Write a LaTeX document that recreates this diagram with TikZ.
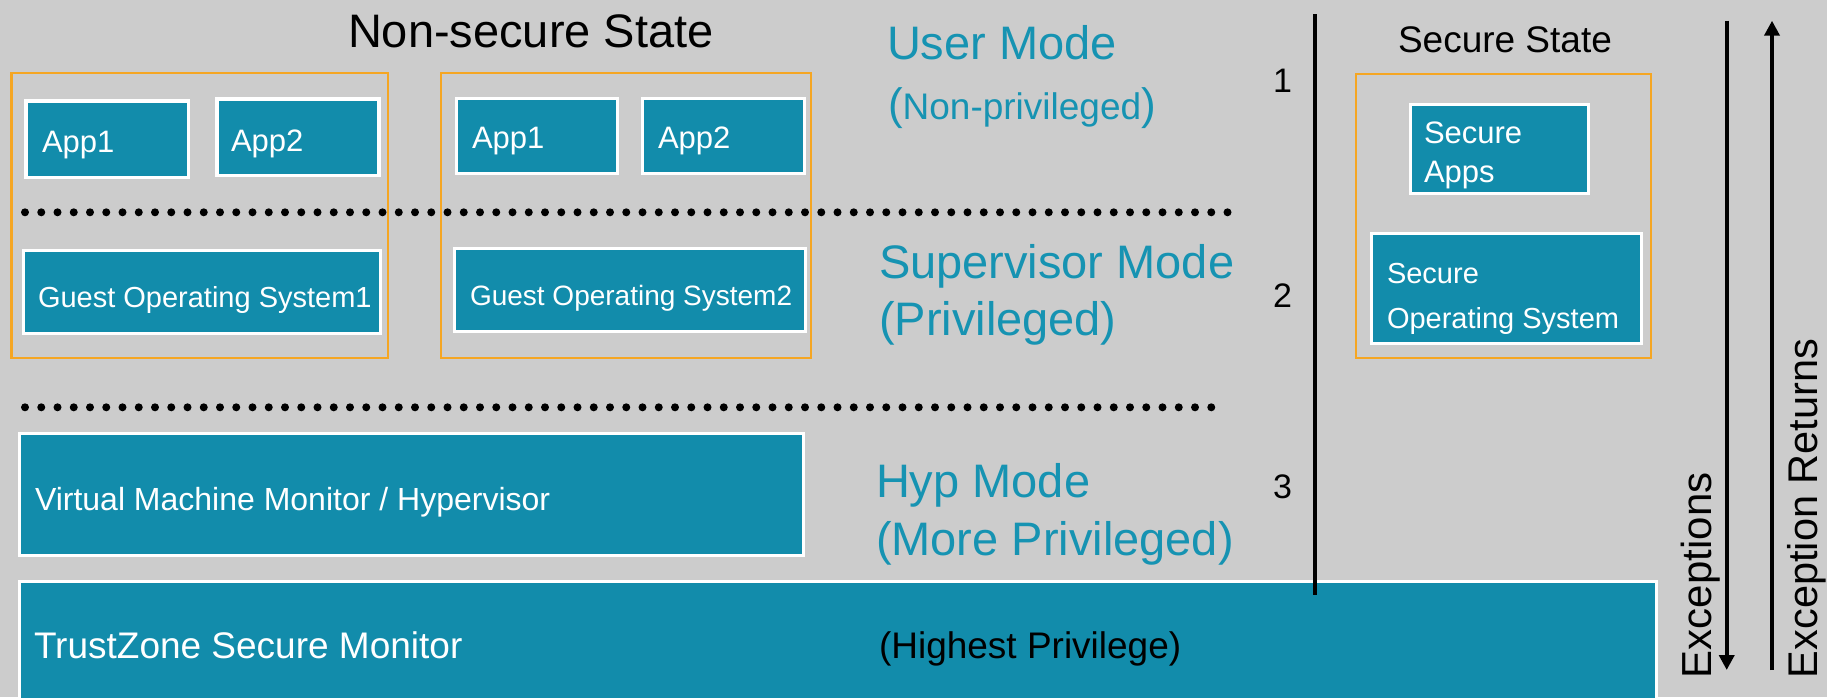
\documentclass[tikz,border=0pt]{standalone}
\usepackage{fontspec}
\setmainfont{Liberation Sans}
\usetikzlibrary{arrows.meta}

\definecolor{bggray}{RGB}{204,204,204}
\definecolor{tealbox}{RGB}{18,140,171}
\definecolor{tealtext}{RGB}{22,147,178}
\definecolor{vmorange}{RGB}{245,166,35}

\newcommand{\fs}[1]{\fontsize{#1}{#1}\selectfont}

\tikzset{
  vmframe/.style={draw=vmorange, line width=2.3pt, fill=none},
  blockbox/.style={draw=white, line width=3.5pt, fill=tealbox, inner sep=0pt, outer sep=0pt},
  txt/.style={inner sep=0pt, outer sep=0pt, anchor=base west},
  boxtxt/.style={txt, text=white},
  modetxt/.style={txt, text=tealtext, font=\fs{47}},
  ringtxt/.style={txt, text=black, font=\fs{34}},
  dotrule/.style={line width=8pt, line cap=round, dash pattern=on 0pt off 16.25pt},
  flowarrow/.style={line width=4pt, -{Triangle[length=15pt,width=15pt]}},
}

\begin{document}
\begin{tikzpicture}[x=1pt, y=-1pt]
  % canvas
  \useasboundingbox (0,0) rectangle (1827,697);
  \fill[bggray] (0,0) rectangle (1827,697);

  % guest virtual machine frames and secure world frame
  \draw[vmframe] (11.5,73) rectangle (388,358);
  \draw[vmframe] (441,73) rectangle (811,358);
  \draw[vmframe] (1356,74) rectangle (1651,358);

  % titles
  \node[txt, font=\fs{47}] (nstitle) at (348,47) {Non-secure State};
  \node[txt, font=\fs{37}] (stitle) at (1398,52) {Secure State};

  % user level blocks
  \node[blockbox, anchor=north west, minimum width=162.7pt, minimum height=76.5pt] (appA1) at (25.8,101) {};
  \node[blockbox, anchor=north west, minimum width=162.2pt, minimum height=76.5pt] (appA2) at (216.8,99) {};
  \node[blockbox, anchor=north west, minimum width=161pt, minimum height=75pt] (appB1) at (456.5,98.5) {};
  \node[blockbox, anchor=north west, minimum width=162pt, minimum height=75pt] (appB2) at (642.5,98.5) {};
  \node[boxtxt, font=\fs{31}] (appA1t) at (42,152.5) {App1};
  \node[boxtxt, font=\fs{31}] (appA2t) at (231,151.5) {App2};
  \node[boxtxt, font=\fs{31}] (appB1t) at (472,148) {App1};
  \node[boxtxt, font=\fs{31}] (appB2t) at (658,148) {App2};

  \node[blockbox, anchor=north west, minimum width=178pt, minimum height=89pt] (sapps) at (1410.5,104.5) {};
  \node[boxtxt, font=\fs{31}] (sappst1) at (1424,143) {Secure};
  \node[boxtxt, font=\fs{31}] (sappst2) at (1424,182) {Apps};

  % privilege level separators
  \coordinate (dotA) at (25,212.3);
  \coordinate (dotB) at (1228.5,212.3);
  \coordinate (dotC) at (25,407.3);
  \coordinate (dotD) at (1212,407.3);
  \draw[dotrule] (dotA) -- (dotB);
  \draw[dotrule] (dotC) -- (dotD);

  % kernel level blocks
  \node[blockbox, anchor=north west, minimum width=357pt, minimum height=83pt] (gos1) at (23.5,250.5) {};
  \node[blockbox, anchor=north west, minimum width=351pt, minimum height=83pt] (gos2) at (454.5,248.5) {};
  \node[boxtxt, font=\fs{29}] (gos1t) at (38,307) {Guest Operating System1};
  \node[boxtxt, font=\fs{28}] (gos2t) at (470,305) {Guest Operating System2};

  \node[blockbox, anchor=north west, minimum width=270pt, minimum height=110pt] (sos) at (1371.5,233.5) {};
  \node[boxtxt, font=\fs{29}] (sost1) at (1387,283) {Secure};
  \node[boxtxt, font=\fs{29}] (sost2) at (1387,328) {Operating System};

  % hypervisor and monitor
  \node[blockbox, anchor=north west, minimum width=784pt, minimum height=122pt] (vmm) at (19.5,433.5) {};
  \node[boxtxt, font=\fs{32}] (vmmt) at (35,510) {Virtual Machine Monitor / Hypervisor};

  \node[blockbox, anchor=north west, minimum width=1637pt, minimum height=140pt] (tz) at (19.5,581.5) {};
  \node[boxtxt, font=\fs{37}] (tzt) at (34,658) {TrustZone Secure Monitor};
  \node[txt, font=\fs{37}] (tzp) at (879,658) {(Highest Privilege)};

  % processor modes
  \node[modetxt] (usr) at (887,59) {User Mode};
  \node[txt, text=tealtext] (usrp) at (888,119) {{\fs{44}(}{\fs{37}Non-privileged}{\fs{44})}};
  \node[modetxt] (svc) at (879,278) {Supervisor Mode};
  \node[modetxt] (svcp) at (879,335) {(Privileged)};
  \node[modetxt] (hyp) at (876,497) {Hyp Mode};
  \node[modetxt] (hypp) at (876,555) {(More Privileged)};

  % privilege level numbers
  \node[ringtxt] (pl1) at (1273,92) {1};
  \node[ringtxt] (pl2) at (1273,307) {2};
  \node[ringtxt] (pl3) at (1273,498) {3};

  % boundary between the two worlds
  \coordinate (wtop) at (1315,14);
  \coordinate (wbot) at (1315,595);
  \draw[line width=3.5pt] (wtop) -- (wbot);

  % exception flow
  \coordinate (exTop) at (1726.7,20.7);
  \coordinate (exBot) at (1726.7,670);
  \coordinate (erBot) at (1772,670);
  \coordinate (erTop) at (1772,20.7);
  \draw[flowarrow] (exTop) -- (exBot);
  \draw[flowarrow] (erBot) -- (erTop);
  \node[txt, rotate=90, font=\fs{42}] (ext) at (1711,678) {Exceptions};
  \node[txt, rotate=90, font=\fs{41.5}] (ert) at (1817,678) {Exception Returns};
\end{tikzpicture}
\end{document}
